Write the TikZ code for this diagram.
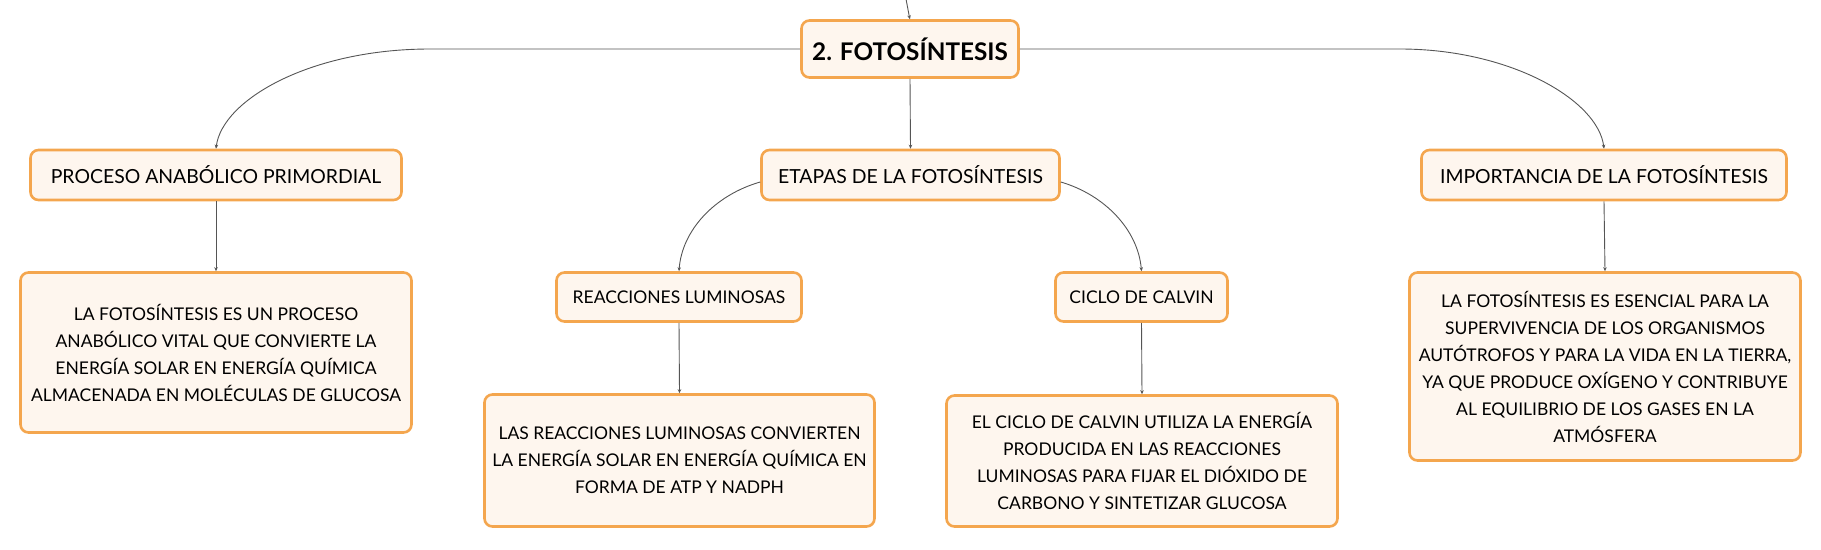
\documentclass[tikz,border=0pt]{standalone}
\usepackage{fontspec}
\setmainfont{Lato}
\usetikzlibrary{arrows.meta,calc}
\definecolor{boxfill}{HTML}{FEF6EE}
\definecolor{boxline}{HTML}{F4A64E}
\definecolor{conn}{HTML}{555555}
\tikzset{
  box/.style={draw=boxline, fill=boxfill, line width=2.6pt, rounded corners=8pt,
    inner sep=0pt, align=center, text=black, font=\fontsize{17.5}{27}\selectfont},
  labelbox/.style={box, font=\fontsize{19.4}{24}\selectfont},
  sublabelbox/.style={box, font=\fontsize{17.5}{24}\selectfont},
  titlebox/.style={box, font=\fontsize{24.3}{28}\selectfont\bfseries},
  conline/.style={draw=conn, line width=0.9pt, -{Stealth[length=4pt,width=3.5pt]}},
}
\begin{document}
\begin{tikzpicture}[x=1pt,y=-1pt]
\useasboundingbox (0,0) rectangle (1821,549);
\node[titlebox, minimum width=217pt, minimum height=57pt] (main) at (910,49) {2. FOTOSÍNTESIS};
\node[labelbox, minimum width=371pt, minimum height=50pt] (proc) at (216,175) {PROCESO ANABÓLICO PRIMORDIAL};
\node[labelbox, minimum width=298pt, minimum height=50pt] (etapas) at (910.5,175) {ETAPAS DE LA FOTOSÍNTESIS};
\node[labelbox, minimum width=365pt, minimum height=50pt] (imp) at (1604,175) {IMPORTANCIA DE LA FOTOSÍNTESIS};
\node[sublabelbox, minimum width=245pt, minimum height=49pt] (reac) at (679,297) {REACCIONES LUMINOSAS};
\node[sublabelbox, minimum width=172pt, minimum height=49pt] (ciclo) at (1141.5,297) {CICLO DE CALVIN};
\node[box, minimum width=391pt, minimum height=160pt] (d1) at (216,352.5) {LA FOTOSÍNTESIS ES UN PROCESO\\ANABÓLICO VITAL QUE CONVIERTE LA\\ENERGÍA SOLAR EN ENERGÍA QUÍMICA\\ALMACENADA EN MOLÉCULAS DE GLUCOSA};
\node[box, minimum width=390pt, minimum height=132pt] (d2) at (679.5,460.5) {LAS REACCIONES LUMINOSAS CONVIERTEN\\LA ENERGÍA SOLAR EN ENERGÍA QUÍMICA EN\\FORMA DE ATP Y NADPH};
\node[box, minimum width=391pt, minimum height=131pt] (d3) at (1142,461) {EL CICLO DE CALVIN UTILIZA LA ENERGÍA\\PRODUCIDA EN LAS REACCIONES\\LUMINOSAS PARA FIJAR EL DIÓXIDO DE\\CARBONO Y SINTETIZAR GLUCOSA};
\node[box, minimum width=391pt, minimum height=188pt] (d4) at (1605,366.5) {LA FOTOSÍNTESIS ES ESENCIAL PARA LA\\SUPERVIVENCIA DE LOS ORGANISMOS\\AUTÓTROFOS Y PARA LA VIDA EN LA TIERRA,\\YA QUE PRODUCE OXÍGENO Y CONTRIBUYE\\AL EQUILIBRIO DE LOS GASES EN LA\\ATMÓSFERA};
\coordinate (top) at (906,-1);
% connectors
\draw[conline] (top) .. controls (907,8) .. (main.north);
\draw[conline] (main.west) -- (430,49) .. controls (310,49) and (222,100) .. (proc.north);
\draw[conline] (main.east) -- (1400,49) .. controls (1510,49) and (1598,100) .. (imp.north);
\draw[conline] (main.south) -- (etapas.north);
\draw[conline] ($(etapas.west)+(0,7)$) .. controls (715,195) and (682,230) .. (reac.north);
\draw[conline] ($(etapas.east)+(0,7)$) .. controls (1105,195) and (1138,230) .. (ciclo.north);
\draw[conline] (proc.south) -- (d1.north);
\draw[conline] (imp.south) -- (d4.north);
\draw[conline] (reac.south) -- (d2.north);
\draw[conline] (ciclo.south) -- (d3.north);
\end{tikzpicture}
\end{document}
